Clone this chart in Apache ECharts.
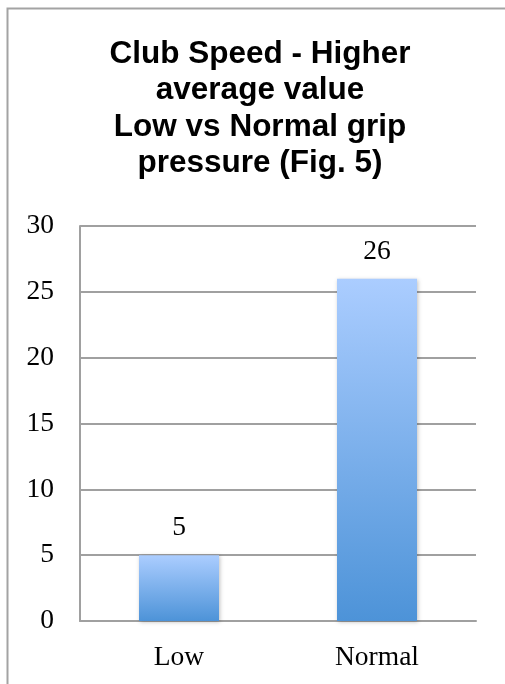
<!DOCTYPE html>
<html>
<head>
<meta charset="utf-8">
<script src="https://cdn.jsdelivr.net/npm/echarts@6/dist/echarts.min.js"></script>
<style>html,body{margin:0;padding:0;background:#fff}#c{width:505px;height:684px}</style>
</head>
<body>
<div id="c"></div>
<script>
const titleText = 'Club Speed - Higher\naverage value\nLow vs Normal grip\npressure (Fig. 5)';
const categories = ['Low', 'Normal'];
const values = [5, 26];
const yMin = 0, yMax = 30, yInterval = 5;

const chart = echarts.init(document.getElementById('c'), null, {renderer: 'canvas'});
const serif = '"Liberation Serif", "DejaVu Serif", serif';
chart.setOption({
  animation: false,
  backgroundColor: '#ffffff',
  graphic: [{
    type: 'rect',
    shape: {x: 7.5, y: 8.5, width: 520, height: 700},
    style: {fill: 'none', stroke: '#a3a3a3', lineWidth: 2},
    silent: true
  }],
  title: {
    text: titleText,
    left: 255,
    top: 31,
    textAlign: 'center',
    textStyle: {
      fontFamily: '"Liberation Sans", Arial, sans-serif',
      fontWeight: 'bold',
      fontSize: 31.5,
      lineHeight: 36.5,
      color: '#000'
    }
  },
  grid: {left: 80, right: 29, top: 226, bottom: 63, containLabel: false},
  xAxis: {
    type: 'category',
    data: categories,
    axisTick: {show: false},
    axisLine: {show: true, lineStyle: {color: '#a0a0a0', width: 2}},
    axisLabel: {fontFamily: serif, fontSize: 27.5, color: '#000', margin: 23}
  },
  yAxis: {
    type: 'value',
    min: yMin, max: yMax, interval: yInterval,
    axisLine: {show: true, lineStyle: {color: '#a0a0a0', width: 2}},
    axisTick: {show: false},
    splitLine: {show: true, lineStyle: {color: '#a0a0a0', width: 2}},
    axisLabel: {fontFamily: serif, fontSize: 27.5, color: '#000', margin: 26, padding: [8, 0, 0, 0]}
  },
  series: [{
    type: 'bar',
    data: values,
    barWidth: 80,
    itemStyle: {
      color: new echarts.graphic.LinearGradient(0, 0, 0, 1, [
        {offset: 0, color: '#abcdff'},
        {offset: 1, color: '#4d93d8'}
      ]),
      shadowBlur: 4,
      shadowColor: 'rgba(0,0,0,0.25)',
      shadowOffsetX: 1,
      shadowOffsetY: 1
    },
    label: {
      show: true,
      position: 'top',
      distance: 13,
      fontFamily: serif,
      fontSize: 27.5,
      color: '#000'
    }
  }]
});
</script>
</body>
</html>
